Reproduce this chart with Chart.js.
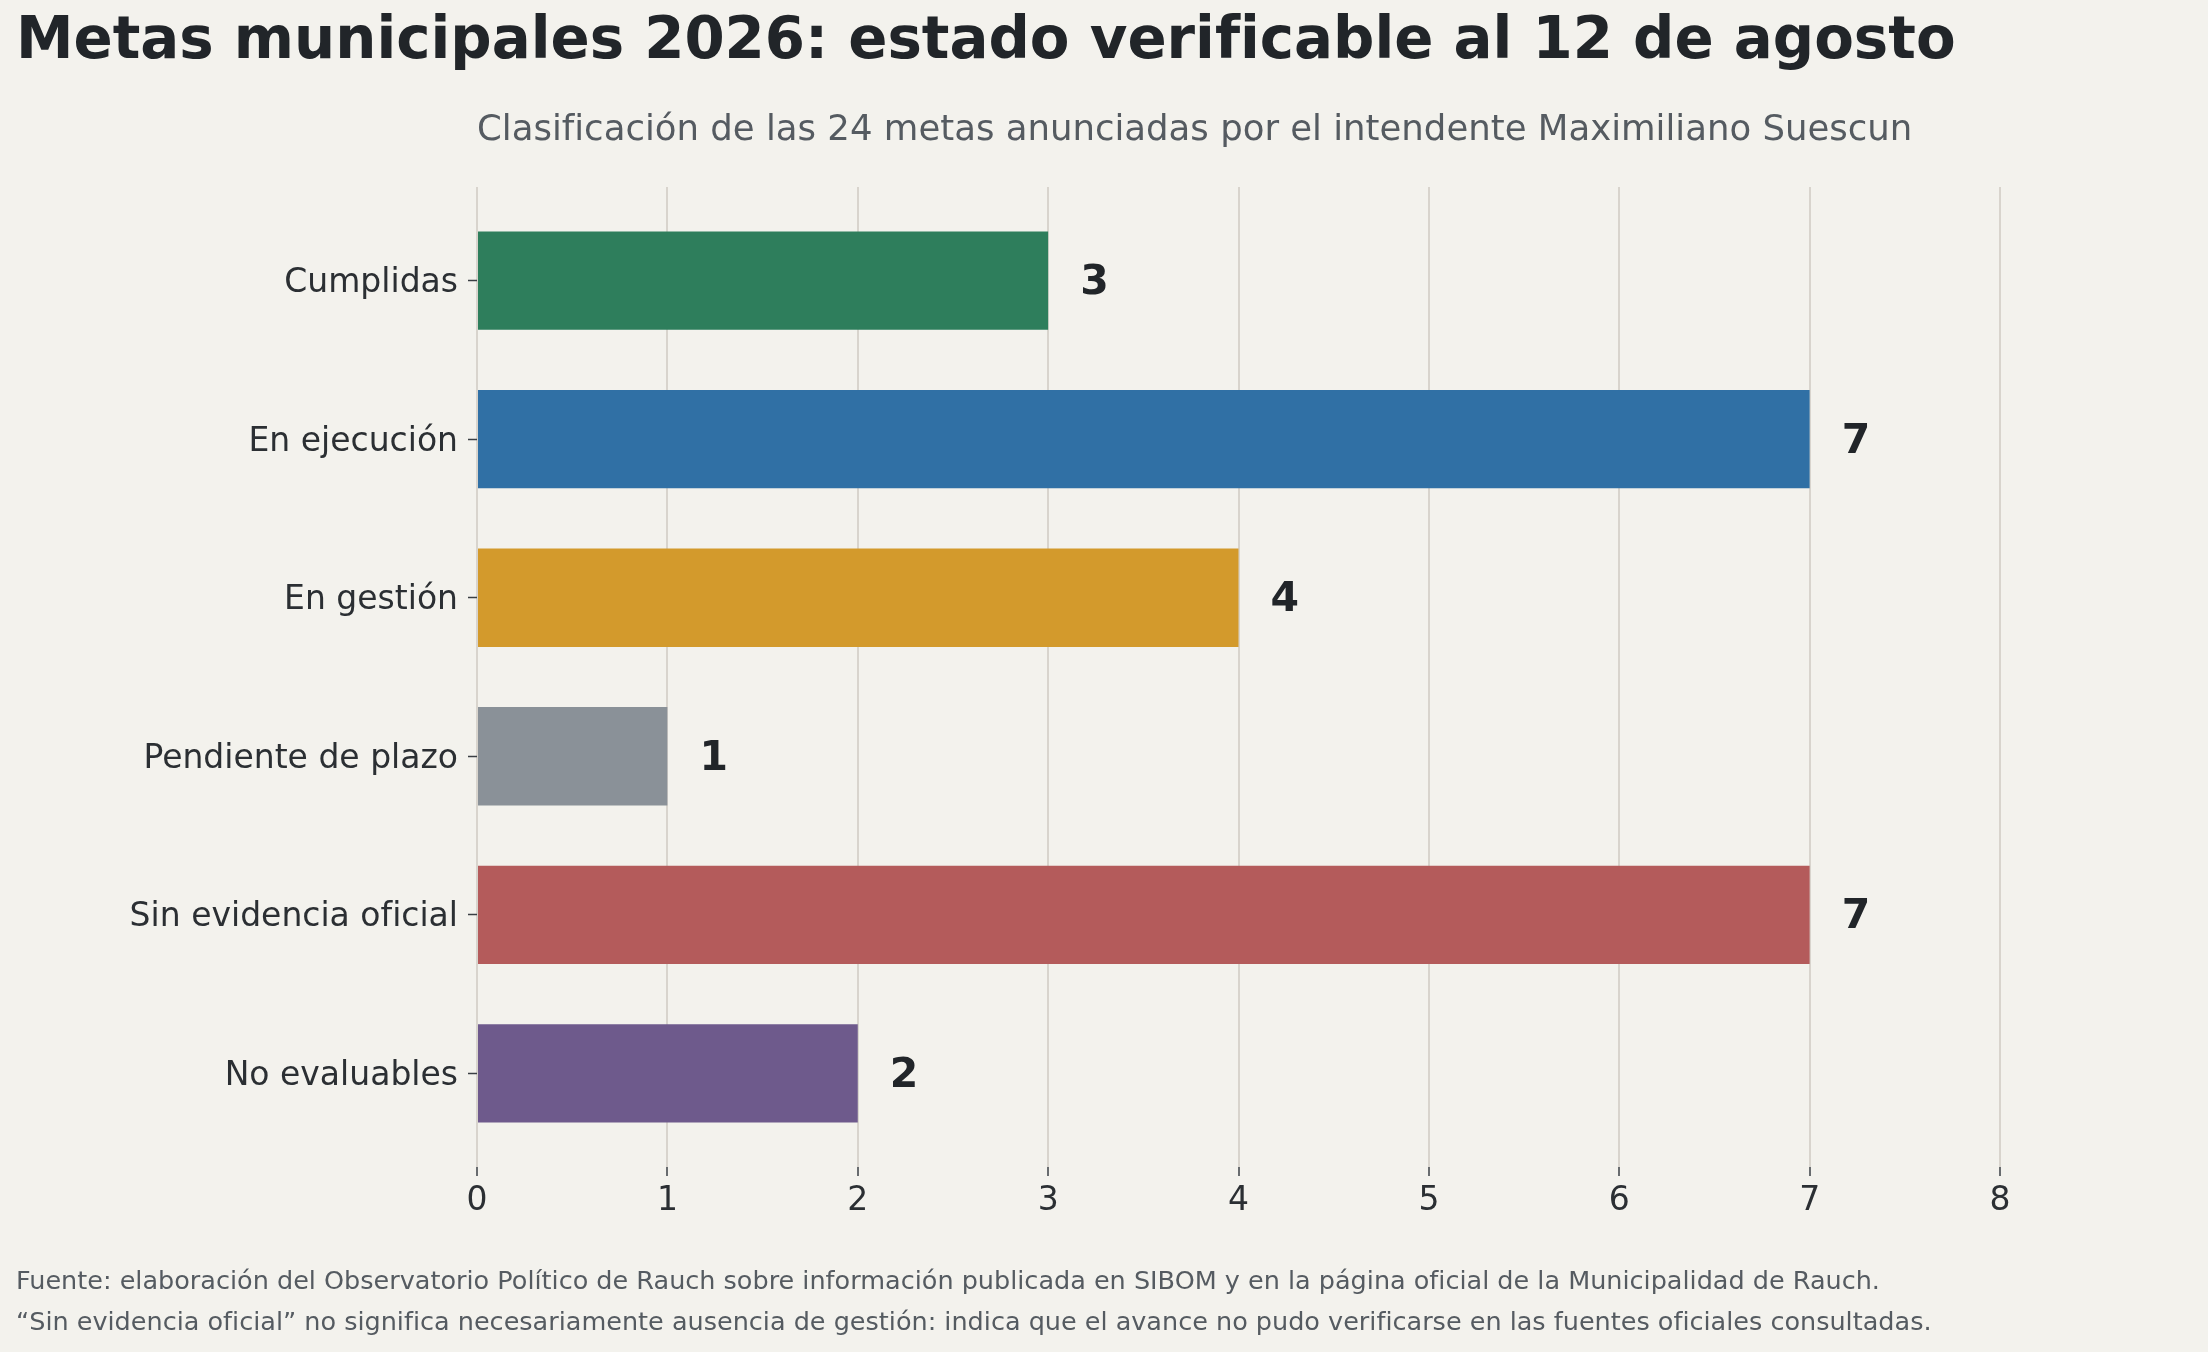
<!DOCTYPE html>
<html lang="es">
<head>
<meta charset="utf-8">
<title>Metas municipales 2026</title>
<script src="https://cdn.jsdelivr.net/npm/chart.js@4.4.1/dist/chart.umd.min.js"></script>
<style>
    html, body {
        margin: 0;
        padding: 0;
        background: #f3f2ed;
        font-family: "DejaVu Sans", sans-serif;
    }
    #page {
        position: relative;
        width: 2208px;
        height: 1352px;
        overflow: hidden;
    }
    #chartBox {
        position: absolute;
        left: 0;
        top: 0;
        width: 2208px;
        height: 1352px;
    }
    .txt {
        position: absolute;
        white-space: nowrap;
        line-height: 1;
    }
    #title {
        left: 16px;
        top: 10px;
        font-size: 57.8px;
        font-weight: bold;
        color: #212529;
    }
    #subtitle {
        left: 477px;
        top: 110px;
        font-size: 35.5px;
        color: #555b61;
    }
    .note {
        left: 16px;
        font-size: 25.5px;
        color: #555b61;
    }
</style>
</head>
<body>
<div id="page">
    <div id="chartBox"><canvas id="metasChart"></canvas></div>
    <div class="txt" id="title">Metas municipales 2026: estado verificable al 12 de agosto</div>
    <div class="txt" id="subtitle">Clasificación de las 24 metas anunciadas por el intendente Maximiliano Suescun</div>
    <div class="txt note" id="note1" style="top:1268px">Fuente: elaboración del Observatorio Político de Rauch sobre información publicada en SIBOM y en la página oficial de la Municipalidad de Rauch.</div>
    <div class="txt note" id="note2" style="top:1309px">“Sin evidencia oficial” no significa necesariamente ausencia de gestión: indica que el avance no pudo verificarse en las fuentes oficiales consultadas.</div>
</div>

<script>
// Datos del gráfico
const categories = ['Cumplidas', 'En ejecución', 'En gestión', 'Pendiente de plazo', 'Sin evidencia oficial', 'No evaluables'];
const counts = [3, 7, 4, 1, 7, 2];
const barColors = ['#2e7e5c', '#3070a5', '#d39a2c', '#8a9198', '#b45b5b', '#6e5a8c'];
const xTicks = [0, 1, 2, 3, 4, 5, 6, 7, 8];

// Límites de los ejes (como en el original)
const xMin = 0;
const xMax = 8;
const yMin = -0.591;
const yMax = 5.591;

const FONT = '"DejaVu Sans", sans-serif';

/**
 * Dibuja el número al final de cada barra
 */
const valueLabels = {
    id: 'valueLabels',
    afterDatasetsDraw(chart) {
        const ctx = chart.ctx;
        const meta = chart.getDatasetMeta(0);
        ctx.save();
        ctx.font = `bold 41px ${FONT}`;
        ctx.fillStyle = '#212529';
        ctx.textAlign = 'left';
        ctx.textBaseline = 'middle';
        meta.data.forEach((bar, i) => {
            ctx.fillText(String(counts[i]), bar.x + 32, bar.y + 3);
        });
        ctx.restore();
    },
};

function renderChart() {
    const ctx = document.getElementById('metasChart').getContext('2d');

    const points = categories.map((c, i) => ({ x: counts[i], y: i }));

    new Chart(ctx, {
        type: 'bar',
        data: {
            datasets: [{
                data: points,
                backgroundColor: barColors,
                borderWidth: 0,
                barPercentage: 0.62,
                categoryPercentage: 1,
            }],
        },
        options: {
            indexAxis: 'y',
            responsive: true,
            maintainAspectRatio: false,
            animation: false,
            layout: {
                padding: { top: 187, right: 208, bottom: 125, left: 0 },
            },
            plugins: {
                legend: { display: false },
                tooltip: { enabled: false },
                title: { display: false },
            },
            scales: {
                x: {
                    type: 'linear',
                    position: 'bottom',
                    min: xMin,
                    max: xMax,
                    offset: false,
                    afterBuildTicks: (scale) => {
                        scale.ticks = xTicks.map((v) => ({ value: v }));
                    },
                    afterFit: (scale) => {
                        scale.height = 60;
                    },
                    border: { display: false },
                    grid: {
                        offset: false,
                        color: '#d8d4cd',
                        lineWidth: 2,
                        drawTicks: true,
                        tickLength: 9,
                        tickColor: '#3a3f44',
                        tickWidth: 1.5,
                    },
                    ticks: {
                        padding: 6,
                        color: '#2b2f33',
                        font: { family: FONT, size: 33 },
                    },
                },
                y: {
                    type: 'linear',
                    min: yMin,
                    max: yMax,
                    reverse: true,
                    offset: false,
                    afterBuildTicks: (scale) => {
                        scale.ticks = categories.map((c, i) => ({ value: i }));
                    },
                    afterFit: (scale) => {
                        scale.width = 477;
                    },
                    border: { display: false },
                    grid: {
                        offset: false,
                        drawOnChartArea: false,
                        drawTicks: true,
                        tickLength: 9,
                        tickColor: '#3a3f44',
                        tickWidth: 1.5,
                    },
                    ticks: {
                        autoSkip: false,
                        padding: 10,
                        labelOffset: 3,
                        color: '#2b2f33',
                        font: { family: FONT, size: 33 },
                        callback: (value) => categories[value] ?? '',
                    },
                },
            },
        },
        plugins: [valueLabels],
    });
}

document.addEventListener('DOMContentLoaded', renderChart);
</script>
</body>
</html>
